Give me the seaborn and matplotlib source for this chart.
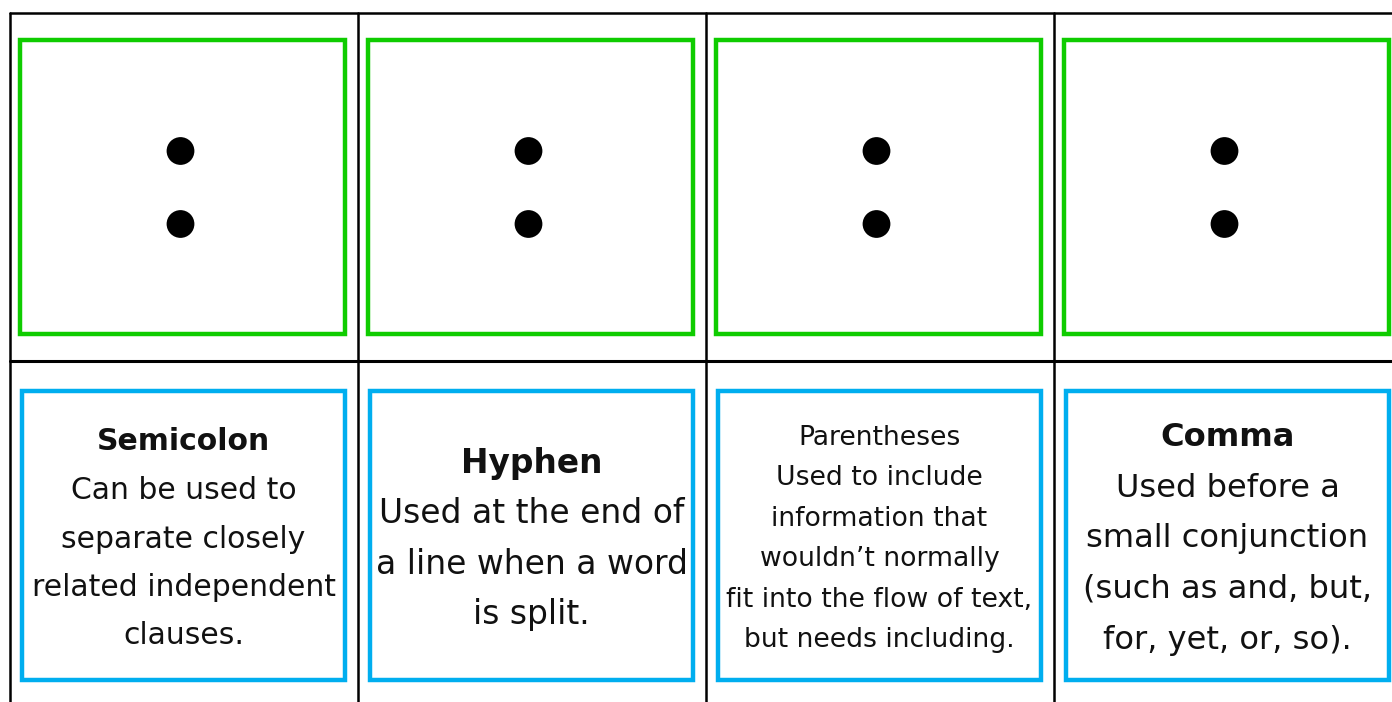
import numpy as np
import pandas as pd
import seaborn as sns
import matplotlib.pyplot as plt
from matplotlib.patches import Rectangle

# card contents
titles = ['Semicolon', 'Hyphen', 'Parentheses', 'Comma']
descriptions = [
    ['Can be used to', 'separate closely', 'related independent', 'clauses.'],
    ['Used at the end of', 'a line when a word', 'is split.'],
    ['Used to include', 'information that', "wouldn\u2019t normally",
     'fit into the flow of text,', 'but needs including.'],
    ['Used before a', 'small conjunction', '(such as and, but,', 'for, yet, or, so).'],
]
title_bold = [True, True, False, True]
dot_rows = [0, 1]  # the two dots drawn on each symbol card

# layout (pixels, origin top-left)
W, H = 1392, 702
col_x0 = 9.5
col_w = 348
mid_y = 360.5
green_c = '#0fcc00'
blue_c = '#00aeef'
font_sizes = [21.5, 23.7, 19.2, 23.1]
line_gap = [48.5, 50.5, 40.4, 50.5]
text_mid = 539

sns.set_theme(style='white')
plt.rcParams['font.family'] = ['DejaVu Sans']

fig = plt.figure(figsize=(W / 100, H / 100), dpi=100)
ax = fig.add_axes([0, 0, 1, 1])
ax.set_xlim(0, W)
ax.set_ylim(H, 0)
ax.axis('off')

# outer grid
n = len(titles)
for i in range(n + 1):
    ax.plot([col_x0 + i * col_w] * 2, [12.5, H + 5], color='black', lw=1.8)
ax.plot([col_x0, W + 5], [12.5, 12.5], color='black', lw=1.8)
ax.plot([col_x0, W + 5], [mid_y, mid_y], color='black', lw=2.2)

dots = []
for i in range(n):
    x0 = col_x0 + i * col_w
    # green symbol box
    ax.add_patch(Rectangle((x0 + 10.5, 40), 325, 293.5, fill=False,
                           edgecolor=green_c, lw=3.2))
    # blue definition box
    ax.add_patch(Rectangle((x0 + 12.5, 391), 323, 288.5, fill=False,
                           edgecolor=blue_c, lw=3.2))
    cx = x0 + 10.5 + 325 / 2 - 2
    for r in dot_rows:
        dots.append({'x': cx, 'y': 151 + 73 * r})

    lines = [titles[i]] + descriptions[i]
    k = len(lines)
    for j, s in enumerate(lines):
        y = text_mid + (j - (k - 1) / 2) * line_gap[i]
        wt = 'bold' if (j == 0 and title_bold[i]) else 'normal'
        ax.text(x0 + 12.5 + 323 / 2, y, s, ha='center', va='center',
                fontsize=font_sizes[i], fontweight=wt, color='#111111')

dots = pd.DataFrame(dots)
sns.scatterplot(data=dots, x='x', y='y', ax=ax, s=400, color='black',
                edgecolor='none', legend=False)

fig.savefig('out.png', dpi=100)
